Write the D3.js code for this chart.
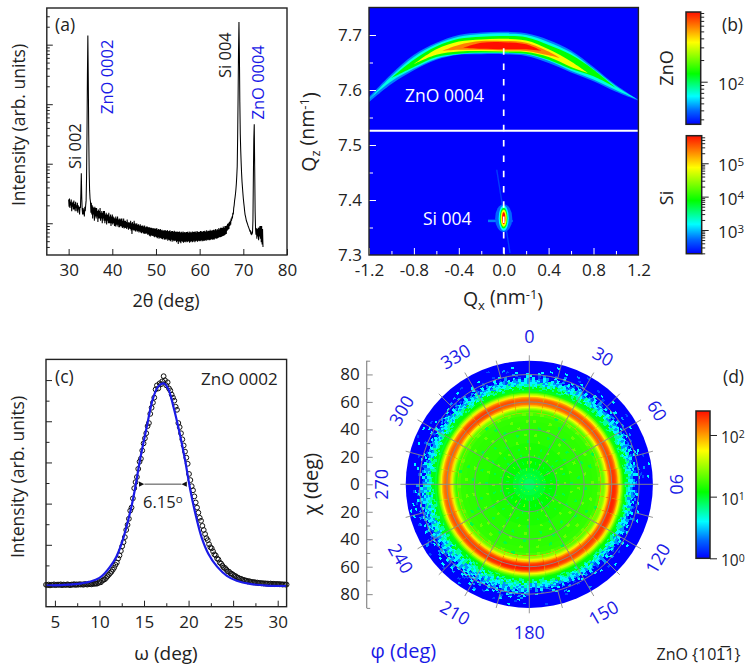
<!DOCTYPE html>
<html>
<head>
<meta charset="utf-8">
<script src="https://cdn.jsdelivr.net/npm/d3@7"></script>
<style>
  html, body { margin: 0; padding: 0; background: #fff; }
  svg { display: block; }
  text { font-family: "Open Sans", sans-serif; fill: #222; }
</style>
</head>
<body>
<svg id="fig" width="747" height="668"></svg>
<script>
// ---- panel (a): one value per 0.1 deg, rows are one degree each, scan starts at 30
const scanStart = 30, scanStep = 0.1;
const scanCounts = [
  25,19,26,18,23,20,25,16,22,19,
  23,17,24,17,21,16,23,18,20,16,
  22,15,20,17,19,14,19,18,32,69,
  28,17,14,18,14,17,13,19,16,20,
  24,58,310,3100,14300,2600,320,75,36,26,
  23,15,22,14,20,12,19,14,18,11,
  19,13,18,12,18,13,16,10.5,17,12,
  16,12,18,11,15,12,16,10,15,12,
  16,11,16,10,14,11,15,9.5,14,11,
  14,10,15,10,13,10,14,9,13,10,
  14,9.5,13,10,12.5,9,12,8.8,13,9.5,
  12,8.8,13,9.5,11.5,8.6,12,8.6,11.5,9,
  12,8.8,12,8.3,11,8.6,12,8.2,11,8.4,
  11,8.3,10.5,8,11.5,8.5,10.2,7.8,10.5,8.2,
  10.2,8,11,7.6,10,6.6,10.5,7.8,9.8,7.6,
  11,7.6,10,7.3,9.6,7.6,10,7.2,9.4,7.4,
  9.6,7,9.2,7.3,9.6,7,9,6.8,9.2,7.1,
  9.2,6.8,8.8,6.6,9.2,6.8,8.6,6.6,8.8,6.8,
  8.8,6.4,8.6,6.5,8.6,6.2,8.6,6,8.3,6.3,
  8.4,6.1,8.2,6.2,8.2,6,8.2,5.8,8,6,
  8.2,5.8,8.2,5.6,7.8,5.8,8,5.5,7.8,5.7,
  8,5.6,7.6,5.5,7.8,5.4,7.5,5.6,7.6,5.3,
  7.6,5.4,7.6,5.3,7.4,5.5,7.7,5.1,7.3,5.3,
  7.4,5.2,7.6,5,7.2,5.3,7.4,4.9,7.4,5.2,
  7.2,5,7.5,5.1,7.1,5.1,7.3,4.8,7.1,5,
  7.3,4.5,7.1,5,7.3,4.8,7,4.6,7.2,5,
  7,4.9,7.3,4.7,7,4.9,7.1,4.8,7,5,
  7.1,4.8,7.2,4.9,6.9,5,7.3,4.7,7,4.9,
  7.2,5,7,4.8,7.3,4.9,7.1,5.1,7.2,4.8,
  7.3,5,7,5.1,7.4,4.9,7.2,5.1,7.1,5,
  7.2,5.1,7.4,5,7.3,5.2,7.1,5,7.4,5.1,
  7.3,5.1,7.5,5.2,7.2,5.1,7.6,5.3,7.3,5.2,
  7.5,5.3,7.4,5.2,7.8,5.3,7.4,5.4,7.6,5.3,
  7.6,5.4,7.8,5.3,7.6,5.5,8,5.6,7.6,5.5,
  8,5.6,7.8,5.7,8.3,5.8,7.9,5.8,8.4,5.9,
  8.4,6,8.3,6.1,8.8,6.2,8.4,6.3,9,6.5,
  9,6.6,9.2,7.5,9.8,7.8,10,8,10.5,9,
  11,9.5,12,11,13,12,15,14,18,20,
  24,27,31,37,46,62,90,280,1300,8000,
  24000,7000,1100,320,170,105,70,50,40,32,
  26,22,19,16,14,13,12,11,10.5,10,
  9.5,9,8.6,8.2,7.8,7.4,7.5,6.8,7,6.5,
  6.6,7,11,60,260,462,90,16,8,6.4,
  8.2,5.5,8,6,8.4,5.2,8.5,6,9,5.5,
  9,4.8,9,4.4,8,4
];
const scanTicks = [30, 40, 50, 60, 70, 80];
const scanDecades = [10, 100, 1000, 10000];
const scanMinor = [4,5,6,7,8,9,20,30,40,50,60,70,80,90,200,300,400,500,600,700,800,900,2000,3000,4000,5000,6000,7000,8000,9000,20000,30000];

// ---- panel (b): contours of the ZnO arc, Qz of upper and lower edge at each Qx
const arcQx = [-1.2,-1,-0.8,-0.6,-0.4,-0.2,0,0.2,0.4,0.6,0.8,1,1.2];
const azureTop = [7.587,7.629,7.664,7.686,7.700,7.7045,7.706,7.703,7.691,7.672,7.642,7.609,7.582];
const azureBot = [7.578,7.611,7.636,7.655,7.664,7.665,7.665,7.662,7.649,7.632,7.616,7.597,7.581];
const cyanTop = [7.583,7.625,7.660,7.683,7.697,7.702,7.703,7.700,7.687,7.668,7.638,7.607,7.582];
const cyanBot = [7.583,7.616,7.639,7.657,7.665,7.667,7.667,7.665,7.653,7.635,7.619,7.600,7.582];
const greenQx = [-1,-0.8,-0.6,-0.4,-0.2,0,0.2,0.4,0.6,0.8,1];
const greenTop = [7.622,7.655,7.679,7.693,7.697,7.698,7.696,7.682,7.664,7.637,7.604];
const greenBot = [7.622,7.642,7.660,7.666,7.668,7.668,7.666,7.655,7.638,7.625,7.604];
const yellowQx = [-0.8,-0.6,-0.4,-0.2,0,0.2,0.4,0.6,0.75];
const yellowTop = [7.647,7.674,7.688,7.692,7.693,7.690,7.674,7.652,7.631];
const yellowBot = [7.647,7.664,7.670,7.671,7.670,7.669,7.660,7.642,7.631];
const orangeQx = [-0.55,-0.4,-0.2,0,0.2,0.4,0.5];
const orangeTop = [7.671,7.682,7.689,7.689,7.686,7.670,7.658];
const orangeBot = [7.671,7.673,7.673,7.672,7.671,7.663,7.658];
const redQx = [-0.36,-0.2,0,0.2,0.34];
const redTop = [7.677,7.686,7.687,7.683,7.671];
const redBot = [7.677,7.675,7.674,7.674,7.671];
// Si 004 spot: semi axes of the nested contours, outermost first
const siCentre = [0, 7.367];
const siSemiQx = [0.076, 0.045, 0.034, 0.026, 0.015];
const siSemiQz = [0.0255, 0.023, 0.019, 0.0155, 0.011];
const siLevels = [0.12, 0.25, 0.45, 0.73, 1];
const streakQx = [-0.062, 0.056], streakQz = [7.455, 7.304];
const lobeQx = [-0.14, 0.08], lobeQz = [7.362, 7.362];
const qxTicks = [-1.2,-0.8,-0.4,0,0.4,0.8,1.2];
const qxMinor = [-1,-0.6,-0.2,0.2,0.6,1];
const qzTicks = [7.3,7.4,7.5,7.6,7.7];
const qzMinor = [7.35,7.45,7.55,7.65];
const cutQz = 7.526;
const znoBarMajor = [100];
const znoBarMinor = [30,40,50,60,70,80,90,200,300,400,500,600,700,800,900];
const siBarMajor = [1000,10000,100000];
const siBarMinor = [200,300,400,500,600,700,800,900,2000,3000,4000,5000,6000,7000,8000,9000,20000,30000,40000,50000,60000,70000,80000,90000,200000,300000,400000,500000,600000];

// ---- panel (c): one circle per 0.15 deg from 4 deg
const rockStart = 4, rockStep = 0.15;
const rockCircles = [
  .006,.004,.007,.003,.006,.005,.008,.004,.006,.007,.005,.008,.004,.007,.006,.005,.008,.006,.004,.007,
  .006,.009,.005,.008,.006,.009,.007,.008,.006,.01,.008,.007,.011,.009,.008,.012,.01,.013,.011,.014,
  .02,.018,.026,.03,.033,.04,.048,.055,.063,.07,.08,.09,.104,.115,.135,.15,.172,.195,.215,.24,
  .275,.30,.33,.37,.385,.43,.48,.51,.535,.575,.61,.625,.665,.70,.725,.75,.785,.80,.845,.875,
  .90,.925,.965,.985,.97,.995,.99,1.005,1.03,1.01,.985,1.0,.97,.96,.94,.925,.91,.88,.865,.80,
  .78,.75,.72,.69,.66,.63,.60,.55,.52,.49,.47,.44,.41,.385,.36,.335,.32,.295,.275,.255,
  .235,.225,.205,.19,.185,.17,.155,.15,.135,.13,.115,.11,.10,.09,.088,.08,.072,.07,.062,.06,
  .055,.05,.048,.042,.04,.036,.035,.03,.03,.027,.026,.022,.024,.02,.02,.018,.019,.016,.017,.014,
  .015,.013,.014,.012,.013,.011,.012,.01,.012,.01,.011,.009,.01,.009,.01,.008,.009,.007,.008,.007,.007
];
const fitOmega = [4,6,7,8,9,10,10.6,11.2,11.9,12.5,13.5,14,14.55,15.3,16,16.6,17.2,17.7,18.3,19,19.6,20.2,20.9,21.5,22.2,23.2,24.3,25.4,26.9,28.8,31];
const fitValue = [.002,.005,.008,.013,.022,.04,.063,.095,.144,.21,.373,.48,.62,.78,.92,.98,.995,.97,.88,.75,.62,.47,.33,.234,.16,.095,.05,.026,.01,.002,0];
const omegaTicks = [5,10,15,20,25,30];
const omegaMinor = [7.5,12.5,17.5,22.5,27.5];
const fwhmOmega = [14.37, 19.87], fwhmValue = 0.5;

// ---- panel (d): radial profile of the pole figure
const poleChi = [0,4,8,12,20,30,40,46,50,52];
const poleCounts = [8,9,10,12,14,15,15.5,16,18,20];
const ringChi = [53,54,55,56,57,58,59,60,61,62,63,64,65,66,67,68];
const ringCounts = [22,28,42,62,100,150,170,190,185,165,120,70,45,28,17,12];
// ring strength per 10 deg of phi, clockwise from the top
const ringGain = [.8,.82,.85,.85,.85,.85,.88,.92,1,1.1,1.15,1.05,1,.95,.95,1,1.1,1.2,1.3,1.25,1.15,1,.95,.9,.85,.8,.75,.72,.74,.78,.85,.95,1,.95,.88,.82];
const ringShift = [0,0,0,0,0,0,.2,.4,.7,1,1.2,1.2,1,.6,.3,0,0,0,0,0,0,0,0,0,0,0,0,0,0,0,0,0,0,0,0,0];
// speckle outside the ring: chi of each row and one level digit per cell round the circle
const speckleChi = [68.7,70,71.3,72.6,73.9,75.2,76.5,77.8,79.1,80.4,81.7,83,84.3,85.6,86.9,88.2];
const speckleHalf = 0.67;
const speckleCounts = [1,1.6,2.4,3.8,6,11];
const speckleRows = [
  "555545555554455555455555545555554555455555555445555545555555 545555555545555554555555455555455555555545555445555555455555 555455555555445555555545555455555555554555545555555445555555 555554555555455555555544555555555455555455555555545555555455",
  "545554455455545554554455555454555445545555445455455554545554 455545554455554545555454555545445555455545554554455555445545 554455455545555445545554545555445455554554455545555454554455 455554455455545545555445455555454554455545555445545554554555",
  "443544534554453454544553445454355445345544435545345544345454 544354453445545344553445435544534544354554344543554453445345 453544534454354455345445354543445534454354453544534455434545 344554354453454435445344553544345544353445534454354435544534",
  "343443234354344233443534432443353443243344343234534432343434 433242343534423344335243443423344325343443234433524343344232 435343443534253443534434254353443524343453443254353434425343 343424334523443343243534432343344253434423344523433443243344",
  "333242343323432334233243423323343223432334323243332423343233 323342332432333242332343322334233243323342332334232433234232 343234334243343234324343324343234334234342334324343234334243 323432332433242332343233243323423324332342333243323423324332",
  "232313243223331234232143233123223413232314323231423233132232 313223132423123322313223413213223123423132231332213223123213 342323432243334232432343224323342324334232434233423243324323 231322341323132233142323132243132233132413223132332143223132",
  "130213203132023130231302130232013203123023130213023102313023 203120302130023102303120230130203102301302031203012302130201 323232413231323241323213242323132423213232413232132423231324 213032132013230213032130223103213023120321302312032130213032",
  "030103200130203010320300130210300120300302001203010032013002 001302001030200301000320010030200100302003010002030010030200 313203213230231321320323132303213213203123132032313203213230 103020130301002030103002031003020103002010302003010200301003",
  "300102000300100302000100300200103000200100300020030001003000 000300010000200003000100000300200000100030000200000300010000 230132023103213032023130302310230132031023013203120302310230 000300100030002000103000200300010002000300010003000200010003",
  "000300000100300000020000300100000300002000001000300000200300 000000300000100000000300000200000003000000100000003000000300 103002310203013002310203103020130032010302031002300130203102 000100003000002000300001000030000200000300010000030000200003",
  "000030000000200000300000000100000300000000200000030000001000 000000000300000000000000100000000300000000000002000000000000 030200130020301002003010300020130002003010020300102000301002 000003000000001000000030000000200000000300000001000000030000",
  "000000030000000001000000003000000000200000000000300000000100 000000000000300000000000000000100000000000000030000000000000 002000300100003000020001000030000020000100030000200001000300 000000000100000000030000000000002000000000300000000010000000",
  "000000000000300000000000100000000000000030000000000000200000 000000000000000000000300000000000000000000000001000000000000 000300000200000100003000000200000300000010000020000300000100 000000300000000000000100000000000030000000000000000200000000",
  "000000000000000020000000000000300000000000000000001000000000 000000000000000000000000000030000000000000000000000000000000 000010000300000000200000100000030000000200000010000003000000 000000000000030000000000000000000000100000000000000000300000",
  "000000000300000000000000000000000000100000000000000000000300 000000000000000000000000000000000000000200000000000000000000 020000000001000000300000000000100000000200000000030000000000 000000000000000000300000000000000000000000000010000000000000",
  "000000000000000000010000000000000000000000000000000003000000 000000000000000000000000000000000000000000000000000000100000 000000300000000000000002000000000000100000000000000300000000 000000000000000100000000000000000000000000000000000000000000"
];
// grain inside the ring: 1 is a cooler cell, 2 a warmer one
const grainChi = [6,11,16,21,26,31,36,41,46,51];
const grainCounts = [0,9,22];
const grainRows = [
  "100120010002010010200100010210001002010001001200100102000101002001010002100100200100102001000120010010020100010020100100",
  "001002000100100020010000201000100200100001020010001000200100100020000101002000100010200100001000201000100200010010002000",
  "020001000200010000102000001002000100001000200000102000100001000020001000200001000010002000001000200100000200010000100020",
  "000200100000200001000020000100200000010002000010000200100000200010000002000100020000010000200010000200001000020000100002",
  "200000100020000010000200100002000001000020001000002000010000200000100020000100002000010002000001000020000100200000100020",
  "000020000100002000100000200001000200000100002000001000200000100020000010000200010000020000100002000010000200010000200001",
  "002000010000200010000200000100020000100002000010000200010000020000100020000100002000100000200001000020000100002000010020",
  "000100200000100002000010002000010000200001000200000100002000010000200010000200000100002000010002000001000020000100002000",
  "020000200100002000002000100002000020001000020000200001000200002000010000200020000100002000020001000020000200010000200002",
  "200200010002002000200100200020002000100200020020001002000200200010020002000200100020020002000100200020002001000200200020"
];
const phiLabels = [0,30,60,90,120,150,180,210,240,270,300,330];
const phiMinor = [15,45,75,105,135,165,195,225,255,285,315,345];
const chiGrid = [20,40,60,80];
const chiTicks = [-80,-60,-40,-20,0,20,40,60,80];
const chiMinor = [-90,-70,-50,-30,-10,10,30,50,70,90];
const poleBarMajor = [1,10,100];

// rainbow colour map shared by all the intensity maps
const stopAt = [0, .12, .25, .45, .73, .87, 1];
const stopColor = ["#0000ff", "#0066ff", "#00ffff", "#00ff00", "#ffff00", "#ff8000", "#ff1000"];
const rainbow = d3.scaleLinear().domain(stopAt).range(stopColor).clamp(true);

const ink = "#222";
const blue = "#1a1ae6";
const svg = d3.select("#fig");
const defs = svg.append("defs");

function ticks(g, axis, colour) {
  g.call(axis);
  g.select(".domain").remove();
  g.selectAll("line").attr("stroke", colour || ink).attr("stroke-width", 1);
  g.selectAll("text").style("font-size", "17px").style("fill", ink);
}
function frame(x, y, colour) {
  svg.append("rect")
    .attr("x", x.range()[0]).attr("y", y.range()[1])
    .attr("width", x.range()[1] - x.range()[0])
    .attr("height", y.range()[0] - y.range()[1])
    .attr("fill", "none").attr("stroke", colour || ink).attr("stroke-width", 1.4);
}
function label(x, y, txt, size, opts) {
  opts = opts || {};
  const t = svg.append("text")
    .attr("transform", `translate(${x},${y})` + (opts.rotate ? ` rotate(${opts.rotate})` : ""))
    .attr("text-anchor", opts.anchor || "start")
    .style("font-size", size + "px")
    .style("fill", opts.fill || ink)
    .text(txt);
  return t;
}
function tspan(t, txt, dy, size) {
  t.append("tspan").attr("dy", dy).style("font-size", size).text(txt);
  return t;
}

// ---------- (a) theta-2theta scan
{
  const x = d3.scaleLinear().domain([25, 80]).range([46.8, 287]);
  const y = d3.scaleLog().domain([2.93, 41300]).range([255, 8]);
  const line = d3.line()
    .x((d, i) => x(scanStart + i * scanStep))
    .y(d => y(d));

  svg.append("path").datum(scanCounts)
    .attr("d", line).attr("fill", "none").attr("stroke", "#000").attr("stroke-width", 1.05);

  svg.append("g").attr("transform", "translate(46.8,0)")
    .call(ticks, d3.axisLeft(y).tickValues(scanDecades).tickSize(-6).tickFormat(""));
  svg.append("g").attr("transform", "translate(46.8,0)")
    .call(ticks, d3.axisLeft(y).tickValues(scanMinor).tickSize(-3).tickFormat(""));
  svg.append("g").attr("transform", "translate(0,255)")
    .call(ticks, d3.axisBottom(x).tickValues(scanTicks).tickSize(-6).tickPadding(9).tickFormat(d3.format("d")));
  frame(x, y);

  label(55, 30.5, "(a)", 17.5);
  label(25, 125, "Intensity (arb. units)", 17.5, { rotate: -90, anchor: "middle" });
  label(166, 307, "2\u03b8 (deg)", 18, { anchor: "middle" });
  label(81, 169, "Si 002", 16.5, { rotate: -90 });
  label(112.5, 114, "ZnO 0002", 16.5, { rotate: -90, fill: blue });
  label(231, 78, "Si 004", 16.5, { rotate: -90 });
  label(263.5, 119.5, "ZnO 0004", 16.5, { rotate: -90, fill: blue });
}

// ---------- (b) reciprocal space map
{
  const x = d3.scaleLinear().domain([-1.2, 1.2]).range([369, 638.4]);
  const y = d3.scaleLinear().domain([7.3, 7.75]).range([255, 7.5]);

  defs.append("clipPath").attr("id", "rsm")
    .append("rect").attr("x", 369).attr("y", 7.5).attr("width", 269.4).attr("height", 247.5);
  defs.append("filter").attr("id", "soft").attr("x", "-10%").attr("y", "-30%").attr("width", "120%").attr("height", "160%")
    .append("feGaussianBlur").attr("stdDeviation", 0.75);
  defs.append("filter").attr("id", "softSpot").attr("x", "-100%").attr("y", "-100%").attr("width", "300%").attr("height", "300%")
    .append("feGaussianBlur").attr("stdDeviation", 0.45);

  svg.append("rect").attr("x", 369).attr("y", 7.5).attr("width", 269.4).attr("height", 247.5).attr("fill", "#0000ff");

  const map = svg.append("g").attr("clip-path", "url(#rsm)");
  const arcs = map.append("g").attr("filter", "url(#soft)");
  const area = d3.area().curve(d3.curveCatmullRom)
    .x(d => x(d.qx)).y0(d => y(d.bot)).y1(d => y(d.top));
  const bands = [
    [arcQx, azureTop, azureBot, .14],
    [arcQx, cyanTop, cyanBot, .27],
    [greenQx, greenTop, greenBot, .45],
    [yellowQx, yellowTop, yellowBot, .72],
    [orangeQx, orangeTop, orangeBot, .87],
    [redQx, redTop, redBot, 1]
  ];
  bands.forEach(([qx, top, bot, level]) => {
    arcs.append("path")
      .datum(qx.map((q, i) => ({ qx: q, top: top[i], bot: bot[i] })))
      .attr("d", area).attr("fill", rainbow(level));
  });

  const spot = map.append("g").attr("filter", "url(#softSpot)");
  spot.append("line")
    .attr("x1", x(streakQx[0])).attr("y1", y(streakQz[0]))
    .attr("x2", x(streakQx[1])).attr("y2", y(streakQz[1]))
    .attr("stroke", rainbow(0.07)).attr("stroke-width", 1.4);
  spot.append("line")
    .attr("x1", x(lobeQx[0])).attr("y1", y(lobeQz[0]))
    .attr("x2", x(lobeQx[1])).attr("y2", y(lobeQz[1]))
    .attr("stroke", rainbow(0.14)).attr("stroke-width", 2.5);
  siLevels.forEach((level, i) => {
    spot.append("ellipse")
      .attr("cx", x(siCentre[0])).attr("cy", y(siCentre[1]))
      .attr("rx", x(siSemiQx[i]) - x(0)).attr("ry", y(7.3) - y(7.3 + siSemiQz[i]))
      .attr("fill", rainbow(level));
  });

  svg.append("line").attr("x1", x(0)).attr("x2", x(0)).attr("y1", 48.3).attr("y2", 255)
    .attr("stroke", "#fff").attr("stroke-width", 1.7).attr("stroke-dasharray", "6.5 8.8");
  svg.append("line").attr("x1", 369).attr("x2", 638.4).attr("y1", y(cutQz)).attr("y2", y(cutQz))
    .attr("stroke", "#fff").attr("stroke-width", 2);

  svg.append("g").attr("transform", "translate(369,0)")
    .call(ticks, d3.axisLeft(y).tickValues(qzTicks).tickSize(-7).tickPadding(7).tickFormat(d3.format(".1f")), "#fff");
  svg.append("g").attr("transform", "translate(369,0)")
    .call(ticks, d3.axisLeft(y).tickValues(qzMinor).tickSize(-4).tickFormat(""), "#fff");
  svg.append("g").attr("transform", "translate(0,255)")
    .call(ticks, d3.axisBottom(x).tickValues(qxTicks).tickSize(-7).tickPadding(9).tickFormat(d => d3.format(".1f")(d).replace("\u2212", "-")), "#fff");
  svg.append("g").attr("transform", "translate(0,255)")
    .call(ticks, d3.axisBottom(x).tickValues(qxMinor).tickSize(-4).tickFormat(""), "#fff");
  frame(x, y);

  label(405, 102, "ZnO 0004", 17.5, { fill: "#fff" });
  label(423, 225, "Si 004", 17.5, { fill: "#fff" });
  label(722, 30.5, "(b)", 17.5);

  const qz = label(316, 132, "Q", 19.5, { rotate: -90, anchor: "middle" });
  tspan(qz, "z", "0.3em", "13px");
  tspan(qz, " (nm", "-0.3em", "19.5px");
  tspan(qz, "-1", "-0.4em", "13px");
  tspan(qz, ")", "0.4em", "19.5px");
  const qxt = label(503, 306, "Q", 19.5, { anchor: "middle" });
  tspan(qxt, "x", "0.3em", "13px");
  tspan(qxt, " (nm", "-0.3em", "19.5px");
  tspan(qxt, "-1", "-0.4em", "13px");
  tspan(qxt, ")", "0.4em", "19.5px");

  label(673, 68, "ZnO", 18, { rotate: -90, anchor: "middle" });
  label(673, 198, "Si", 18, { rotate: -90, anchor: "middle" });
}

// vertical colour bars, shared gradient
{
  const grad = defs.append("linearGradient").attr("id", "rainbowBar")
    .attr("x1", 0).attr("x2", 0).attr("y1", 1).attr("y2", 0);
  stopAt.forEach((s, i) => grad.append("stop").attr("offset", s).attr("stop-color", stopColor[i]));
}
function colourBar(left, width, scale, major, minor, labelBase, size) {
  const [y0, y1] = scale.range();
  svg.append("rect").attr("x", left).attr("y", y1).attr("width", width).attr("height", y0 - y1)
    .attr("fill", "url(#rainbowBar)").attr("stroke", ink).attr("stroke-width", 1.5);
  const right = left + width;
  svg.append("g").attr("transform", `translate(${right},0)`)
    .call(ticks, d3.axisRight(scale).tickValues(major).tickSize(7).tickFormat(""));
  if (minor.length) svg.append("g").attr("transform", `translate(${right},0)`)
    .call(ticks, d3.axisRight(scale).tickValues(minor).tickSize(3.5).tickFormat(""));
  major.forEach(m => {
    const t = label(labelBase, scale(m) + 8, "10", size);
    tspan(t, String(Math.round(Math.log10(m))), "-0.45em", (size * 0.68) + "px");
  });
}
colourBar(686, 14.7, d3.scaleLog().domain([25.6, 930]).range([124.3, 12]), znoBarMajor, znoBarMinor, 718, 17);
colourBar(686.3, 15.4, d3.scaleLog().domain([195, 670000]).range([253.7, 135.7]), siBarMajor, siBarMinor, 718, 17);

// ---------- (c) rocking curve
{
  const x = d3.scaleLinear().domain([4, 31]).range([46, 286.6]);
  const y = d3.scaleLinear().domain([-0.1017, 1.1125]).range([606.7, 359.4]);
  const mark = defs.append("marker").attr("id", "fwhmHead")
    .attr("viewBox", "0 0 10 10").attr("refX", 0).attr("refY", 5)
    .attr("markerWidth", 6).attr("markerHeight", 6).attr("orient", "auto-start-reverse");
  mark.append("path").attr("d", "M0,5L10,0L10,10Z").attr("fill", "#111");

  svg.append("g").selectAll("circle").data(rockCircles).join("circle")
    .attr("cx", (d, i) => x(rockStart + i * rockStep))
    .attr("cy", d => y(d))
    .attr("r", 2.4).attr("fill", "none").attr("stroke", "#111").attr("stroke-width", 1);

  const fitLine = d3.line().curve(d3.curveCatmullRom)
    .x((d, i) => x(fitOmega[i])).y(d => y(d));
  svg.append("path").datum(fitValue).attr("d", fitLine)
    .attr("fill", "none").attr("stroke", blue).attr("stroke-width", 2.2);

  const yt = d3.range(11).map(i => i * 0.2022 * 0.5);
  svg.append("g").attr("transform", "translate(46,0)")
    .call(ticks, d3.axisLeft(y).tickValues(yt.filter((d, i) => i % 2 === 0)).tickSize(-6).tickFormat(""));
  svg.append("g").attr("transform", "translate(46,0)")
    .call(ticks, d3.axisLeft(y).tickValues(yt.filter((d, i) => i % 2 === 1)).tickSize(-3.5).tickFormat(""));
  svg.append("g").attr("transform", "translate(0,606.7)")
    .call(ticks, d3.axisBottom(x).tickValues(omegaTicks).tickSize(-6).tickPadding(9).tickFormat(d3.format("d")));
  svg.append("g").attr("transform", "translate(0,606.7)")
    .call(ticks, d3.axisBottom(x).tickValues(omegaMinor).tickSize(-3.5).tickFormat(""));
  frame(x, y);

  svg.append("line")
    .attr("x1", x(fwhmOmega[0]) + 6).attr("x2", x(fwhmOmega[1]) - 6)
    .attr("y1", y(fwhmValue)).attr("y2", y(fwhmValue))
    .attr("stroke", "#333").attr("stroke-width", 0.9)
    .attr("marker-start", "url(#fwhmHead)").attr("marker-end", "url(#fwhmHead)");

  label(55, 383, "(c)", 17.5);
  label(201, 385, "ZnO 0002", 17);
  const fw = label(143, 508, "6.15", 16.5);
  tspan(fw, "o", "-0.4em", "11.5px");
  label(24, 477, "Intensity (arb. units)", 17.5, { rotate: -90, anchor: "middle" });
  label(166, 660, "\u03c9 (deg)", 19, { anchor: "middle" });
}

// ---------- (d) pole figure
{
  const cx = 529.3, cy = 484.3;
  const r = d3.scaleLinear().domain([0, 90]).range([0, 123.6]);
  const poleT = d3.scaleLog().domain([1, 245]).range([0, 1]).clamp(true);
  const g = svg.append("g").attr("transform", `translate(${cx},${cy})`);
  const arc = d3.arc();
  const rad = d => d * Math.PI / 180;

  g.append("circle").attr("r", r(90)).attr("fill", rainbow(0));

  const inner = g.append("g");
  for (let i = poleChi.length - 1; i >= 0; i--) {
    inner.append("circle").attr("r", r(i + 1 < poleChi.length ? poleChi[i + 1] : 53))
      .attr("fill", rainbow(poleT(poleCounts[i])));
  }

  const cells = (group, rows, chis, half, counts) => rows.forEach((row, j) => {
    const digits = row.replace(/ /g, "");
    const width = 360 / digits.length;
    for (let k = 0; k < digits.length; k++) {
      const level = +digits[k];
      if (level === 0) continue;
      group.append("path")
        .attr("d", arc({
          innerRadius: r(chis[j] - half), outerRadius: r(chis[j] + half),
          startAngle: rad(k * width), endAngle: rad((k + 1) * width)
        }))
        .attr("fill", rainbow(poleT(counts[level])));
    }
  });

  cells(g.append("g").attr("shape-rendering", "crispEdges"), grainRows, grainChi, 1, grainCounts);
  // speckled rows first, the ring goes over their inner edge
  cells(g.append("g").attr("shape-rendering", "crispEdges"), speckleRows, speckleChi, speckleHalf, speckleCounts);

  const ring = g.append("g");
  ringGain.forEach((gain, s) => {
    const shift = ringShift[s];
    for (let i = ringChi.length - 1; i >= 0; i--) {
      const col = rainbow(poleT(ringCounts[i] * gain));
      ring.append("path")
        .attr("d", arc({
          innerRadius: r(ringChi[0] - 0.5), outerRadius: r(ringChi[i] + 0.5 + shift),
          startAngle: rad(s * 10), endAngle: rad((s + 1) * 10)
        }))
        .attr("fill", col).attr("stroke", col).attr("stroke-width", 0.4);
    }
  });

  // grid
  const grid = "#8a8a8a";
  chiGrid.forEach(c => g.append("circle").attr("r", r(c)).attr("fill", "none")
    .attr("stroke", grid).attr("stroke-width", 0.9));
  phiLabels.forEach(p => {
    const start = (p === 90 || p === 270) ? 0 : r(12);
    const a = rad(p), end = 129;
    g.append("line")
      .attr("x1", start * Math.sin(a)).attr("y1", -start * Math.cos(a))
      .attr("x2", end * Math.sin(a)).attr("y2", -end * Math.cos(a))
      .attr("stroke", grid).attr("stroke-width", 0.9);
  });
  phiMinor.forEach(p => {
    const a = rad(p), s = r(80), e = 128;
    g.append("line")
      .attr("x1", s * Math.sin(a)).attr("y1", -s * Math.cos(a))
      .attr("x2", e * Math.sin(a)).attr("y2", -e * Math.cos(a))
      .attr("stroke", grid).attr("stroke-width", 0.9);
  });

  phiLabels.forEach(p => {
    const a = rad(p), rr = 148;
    const tilt = p <= 90 ? p : p < 180 ? p - 180 : p === 180 ? 0 : p < 270 ? p - 180 : p - 360;
    g.append("text")
      .attr("transform", `translate(${rr * Math.sin(a)},${-rr * Math.cos(a)}) rotate(${tilt})`)
      .attr("text-anchor", "middle").attr("dominant-baseline", "central")
      .style("font-size", "18px").style("fill", blue)
      .text(p);
  });

  // chi axis on the left
  const chiY = d3.scaleLinear().domain([-90, 90]).range([cy + r(90), cy - r(90)]);
  svg.append("line").attr("x1", 366.7).attr("x2", 366.7).attr("y1", chiY(90)).attr("y2", chiY(-90))
    .attr("stroke", "#888").attr("stroke-width", 1.2);
  svg.append("g").attr("transform", "translate(366.7,0)")
    .call(ticks, d3.axisLeft(chiY).tickValues(chiTicks).tickSize(-6).tickPadding(7).tickFormat(d => Math.abs(d)), "#888");
  svg.append("g").attr("transform", "translate(366.7,0)")
    .call(ticks, d3.axisLeft(chiY).tickValues(chiMinor).tickSize(-3.5).tickFormat(""), "#888");

  label(318, 484, "\u03c7 (deg)", 20, { rotate: -90, anchor: "middle" });
  label(370.5, 658, "\u03c6 (deg)", 20, { fill: blue });
  label(723, 383, "(d)", 17.5);
  label(656.5, 660, "ZnO {10\u0031\u03051}", 16);
}
colourBar(696, 14, d3.scaleLog().domain([1, 245]).range([558.3, 411]), poleBarMajor, [], 721, 15.5);
</script>
</body>
</html>
